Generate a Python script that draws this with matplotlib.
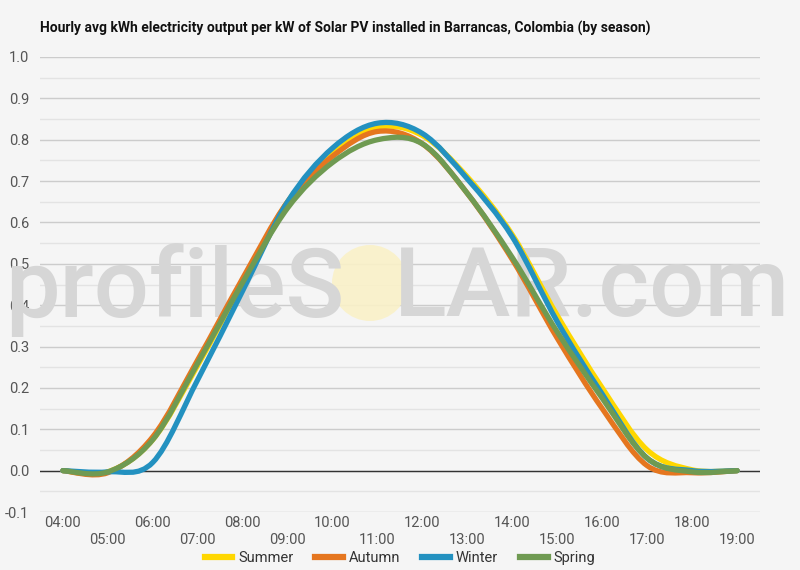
import numpy as np
import matplotlib.pyplot as plt
from matplotlib.path import Path
from matplotlib.patches import PathPatch, Circle
from matplotlib.lines import Line2D

hours = list(range(4, 20))
tick_labels = ["%02d:00" % h for h in hours]

summer = [0.0, -0.003, 0.075, 0.255, 0.455, 0.65, 0.765, 0.83, 0.81, 0.71, 0.57, 0.375, 0.2, 0.05, 0.002, 0.0]
autumn = [0.0, -0.005, 0.082, 0.268, 0.465, 0.65, 0.76, 0.82, 0.79, 0.67, 0.51, 0.32, 0.15, 0.012, -0.005, 0.0]
winter = [0.0, -0.003, 0.02, 0.22, 0.435, 0.65, 0.78, 0.84, 0.815, 0.705, 0.565, 0.36, 0.185, 0.03, 0.0, 0.0]
spring = [0.0, -0.003, 0.075, 0.26, 0.455, 0.635, 0.745, 0.80, 0.79, 0.67, 0.515, 0.335, 0.175, 0.03, -0.003, 0.0]

seasons = ["Summer", "Autumn", "Winter", "Spring"]
colors = ["#ffd700", "#e5761f", "#2391c0", "#6f9a52"]

bg = "#f5f5f5"
plt.rcParams['font.family'] = ['Roboto', 'DejaVu Sans']

fig = plt.figure(figsize=(8, 5.7), dpi=100, facecolor=bg)
ax = fig.add_axes([0.05, 1 - 512 / 570, 0.90, (512 - 57) / 570])
ax.set_facecolor(bg)


def smooth_path(x, y):
    # excel-like smoothed line: bezier through every point
    x = np.asarray(x, float)
    y = np.asarray(y, float)
    n = len(x)
    verts = [(x[0], y[0])]
    codes = [Path.MOVETO]
    for i in range(n - 1):
        i0 = max(i - 1, 0)
        i3 = min(i + 2, n - 1)
        c1 = (x[i] + (x[i + 1] - x[i0]) / 6, y[i] + (y[i + 1] - y[i0]) / 6)
        c2 = (x[i + 1] - (x[i3] - x[i]) / 6, y[i + 1] - (y[i3] - y[i]) / 6)
        verts += [c1, c2, (x[i + 1], y[i + 1])]
        codes += [Path.CURVE4] * 3
    return Path(verts, codes)


for vals, c in zip([summer, autumn, winter, spring], colors):
    p = PathPatch(smooth_path(hours, vals), facecolor='none', edgecolor=c,
                  lw=3.8, capstyle='round', joinstyle='round', zorder=3)
    ax.add_patch(p)

ax.set_xlim(3.49, 19.51)
ax.set_ylim(-0.1, 1.0)
ax.set_yticks(np.arange(-0.1, 1.01, 0.1))
ax.set_yticklabels(["%.1f" % v for v in np.arange(-0.1, 1.01, 0.1)])
ax.set_yticks(np.arange(-0.05, 1.0, 0.1), minor=True)
ax.grid(axis='y', which='major', color='#cccccc', lw=1)
ax.grid(axis='y', which='minor', color='#e3e3e3', lw=1)
ax.axhline(0, color='#333333', lw=1, zorder=2)
ax.set_axisbelow(True)

ax.set_xticks(hours)
ax.set_xticklabels([t if i % 2 == 0 else "\n" + t for i, t in enumerate(tick_labels)],
                   linespacing=1.25)
ax.tick_params(axis='both', which='both', length=0, labelsize=10.5, labelcolor='#555555')
ax.tick_params(axis='x', pad=3)
ax.tick_params(axis='y', pad=8)
for s in ax.spines.values():
    s.set_visible(False)

fig.text(0.05, 1 - 28 / 570, "Hourly avg kWh electricity output per kW of Solar PV installed in Barrancas, Colombia (by season)",
         fontsize=10, fontweight='bold', color='#111111', va='center', ha='left')

# watermark
ax.text(5 / 800, 1 - 290 / 570, "profileS", transform=fig.transFigure, fontsize=70,
        fontweight='medium', color='#d6d6d6', va='center', ha='left', clip_on=False, zorder=1.5)
ax.text(790 / 800, 1 - 290 / 570, "LAR.com", transform=fig.transFigure, fontsize=70,
        fontweight='medium', color='#d6d6d6', va='center', ha='right', clip_on=False, zorder=1.5)
sun = Circle((3.70, 2.87), 0.38, transform=fig.dpi_scale_trans, facecolor='#faf1c8',
             edgecolor='none', clip_on=False, zorder=1.4, alpha=0.9)
ax.add_artist(sun)

handles = [Line2D([0], [0], color=c, lw=4.5) for c in colors]
fig.legend(handles, seasons, loc='center', bbox_to_anchor=(0.5, 1 - 558 / 570), ncol=4,
           frameon=False, fontsize=10.5, handlelength=1.9, columnspacing=1.5,
           handletextpad=0.4, labelcolor='#333333')

fig.savefig("out.png", dpi=100, facecolor=bg)
